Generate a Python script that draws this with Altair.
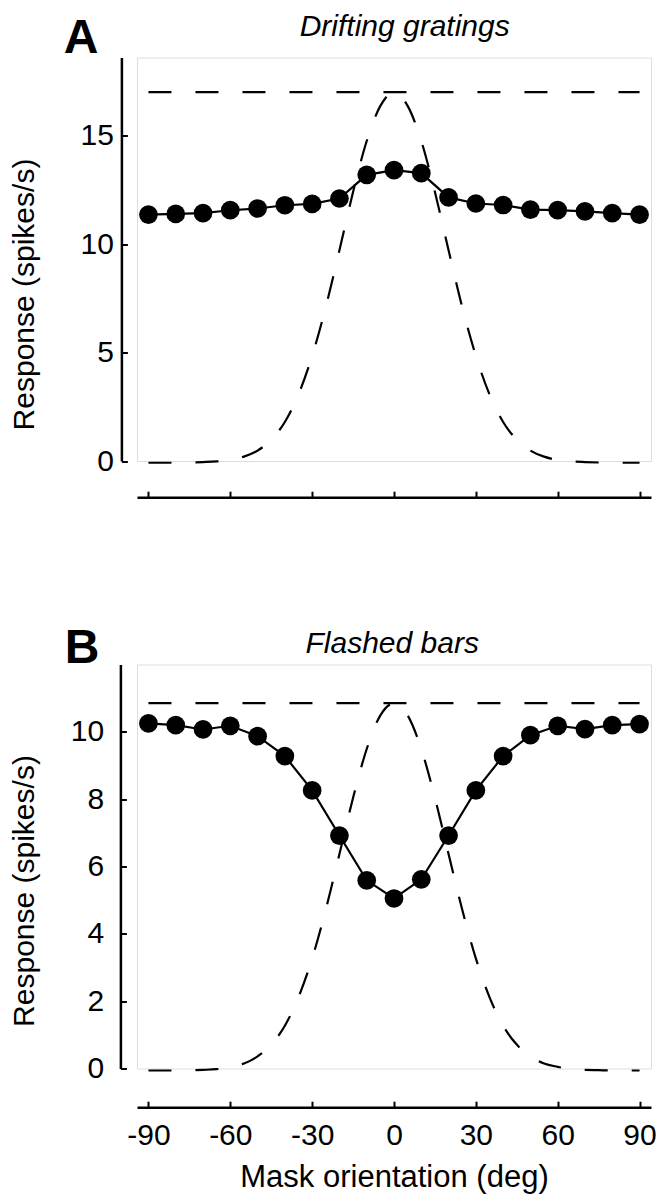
import altair as alt
import pandas as pd

# ---------------- data ----------------
angles = [-90, -80, -70, -60, -50, -40, -30, -20, -10, 0, 10, 20, 30, 40, 50, 60, 70, 80, 90]
resp_gratings = [11.36, 11.39, 11.43, 11.56, 11.64, 11.79, 11.85, 12.10, 13.19, 13.41,
                 13.27, 12.15, 11.87, 11.80, 11.59, 11.56, 11.51, 11.43, 11.36]
resp_bars = [10.25, 10.20, 10.07, 10.18, 9.87, 9.28, 8.26, 6.92, 5.59, 5.05,
             5.62, 6.92, 8.26, 9.28, 9.90, 10.18, 10.08, 10.20, 10.23]

curve_angles = [-90, -85, -80, -75, -70, -65, -60, -55, -50, -45, -40, -35, -30, -25, -20, -15, -10, -5, 0,
                5, 10, 15, 20, 25, 30, 35, 40, 45, 50, 55, 60, 65, 70, 75, 80, 85, 90]
curve_gratings = [-0.08, -0.08, -0.08, -0.07, -0.05, -0.02, 0.05, 0.20, 0.48, 0.98, 1.80, 3.07, 4.85, 7.10,
                  9.72, 12.40, 14.75, 16.37, 17.00, 16.37, 14.75, 12.40, 9.72, 7.10, 4.85, 3.07, 1.80,
                  0.98, 0.48, 0.20, 0.05, -0.02, -0.05, -0.07, -0.08, -0.08, -0.08]
curve_bars = [-0.06, -0.06, -0.06, -0.05, -0.04, -0.02, 0.05, 0.15, 0.36, 0.71, 1.27, 2.12, 3.27, 4.72,
              6.37, 8.04, 9.49, 10.49, 10.85, 10.49, 9.49, 8.04, 6.37, 4.72, 3.27, 2.12, 1.27,
              0.71, 0.36, 0.15, 0.05, -0.02, -0.04, -0.05, -0.06, -0.06, -0.06]

ref_angles = [-90, 90]
ref_gratings = [17.0, 17.0]
ref_bars = [10.85, 10.85]

x_ticks = [-90, -60, -30, 0, 30, 60, 90]
y_ticks_gratings = [0, 5, 10, 15]
y_ticks_bars = [0, 2, 4, 6, 8, 10]

FONT = "Liberation Sans"
X_DOMAIN = [-94.2, 94.2]
W = 514
HYPHEN_LABEL = "(datum.value < 0 ? '-' : '') + abs(datum.value)"


def panel(resp, curve, ref, ymax, yticks, H, xoff, yoff, lab_pad, title_x, title_y,
          letter, letter_x, letter_y, head, head_x, head_y, xlabels):
    xs = alt.Scale(domain=X_DOMAIN, nice=False, zero=False)
    ys = alt.Scale(domain=[0, ymax], nice=False, zero=False)

    # axis lines with inward-pointing ticks
    ax_x_line = alt.Axis(orient="top", offset=-(H + xoff), values=x_ticks, labels=False,
                         ticks=True, tickSize=6, tickWidth=2, tickColor="black",
                         domainColor="black", domainWidth=2.5, grid=False)
    ax_y_line = alt.Axis(orient="right", offset=-(W + yoff), values=yticks, labels=False,
                         ticks=True, tickSize=6, tickWidth=2, tickColor="black",
                         domainColor="black", domainWidth=2.5, grid=False)

    ref_df = pd.DataFrame({"angle": ref_angles, "resp": ref})
    ref_layer = alt.Chart(ref_df).mark_line(
        color="black", strokeWidth=2.2, strokeDash=[23, 24]
    ).encode(
        x=alt.X("angle:Q", scale=xs, axis=ax_x_line, title=None),
        y=alt.Y("resp:Q", scale=ys, axis=ax_y_line, title=None),
    )

    curve_df = pd.DataFrame({"angle": curve_angles, "resp": curve})
    curve_layer = alt.Chart(curve_df).mark_line(
        color="black", strokeWidth=2.2, strokeDash=[23, 24], interpolate="monotone"
    ).encode(
        x=alt.X("angle:Q", scale=xs, axis=None),
        y=alt.Y("resp:Q", scale=ys, axis=None),
    )

    data_df = pd.DataFrame({"angle": angles, "resp": resp})
    line_layer = alt.Chart(data_df).mark_line(color="black", strokeWidth=2.2).encode(
        x=alt.X("angle:Q", scale=xs, axis=None),
        y=alt.Y("resp:Q", scale=ys, axis=None),
    )

    ax_y_lab = alt.Axis(orient="left", offset=yoff, values=yticks, domain=False, ticks=False,
                        tickSize=0, labelPadding=lab_pad, labelFontSize=30, labelFont=FONT,
                        labelColor="black", labelFlush=False, grid=False,
                        title="Response (spikes/s)", titleFont=FONT, titleFontSize=30,
                        titleFontWeight="normal", titleColor="black", titleX=title_x,
                        titleY=title_y, titleAngle=270, titleBaseline="middle",
                        titleAlign="center")
    if xlabels:
        x_enc = alt.X("angle:Q", scale=xs, axis=alt.Axis(
            orient="bottom", offset=xoff, values=x_ticks, domain=False, ticks=False,
            tickSize=0, labelPadding=13, labelFontSize=30, labelFont=FONT,
            labelColor="black", labelFlush=False, grid=False, labelExpr=HYPHEN_LABEL,
            title="Mask orientation (deg)", titleFont=FONT, titleFontSize=31,
            titleFontWeight="normal", titleColor="black", titlePadding=12))
    else:
        x_enc = alt.X("angle:Q", scale=xs, title=None, axis=alt.Axis(
            orient="bottom", offset=xoff, values=x_ticks, domain=False, ticks=False,
            tickSize=0, labels=False, grid=False))

    point_layer = alt.Chart(data_df).mark_point(
        filled=True, shape="circle", size=350, color="black", opacity=1
    ).encode(
        x=x_enc,
        y=alt.Y("resp:Q", scale=ys, axis=ax_y_lab),
    )

    letter_layer = alt.Chart(pd.DataFrame({"t": [letter]})).mark_text(
        font=FONT, fontSize=48, fontWeight="bold", align="left", baseline="alphabetic",
        color="black"
    ).encode(x=alt.value(letter_x), y=alt.value(letter_y), text="t:N")

    head_layer = alt.Chart(pd.DataFrame({"t": [head]})).mark_text(
        font=FONT, fontSize=30, fontStyle="italic", align="center", baseline="alphabetic",
        color="black"
    ).encode(x=alt.value(head_x), y=alt.value(head_y), text="t:N")

    return alt.layer(ref_layer, curve_layer, line_layer, point_layer,
                     letter_layer, head_layer).properties(width=W, height=H)


top = panel(resp_gratings, curve_gratings, ref_gratings, 18.6, y_ticks_gratings,
            H=403.5, xoff=36.2, yoff=15.6, lab_pad=8, title_x=-97.2, title_y=236.5,
            letter="A", letter_x=-73.3, letter_y=-4.3,
            head="Drifting gratings", head_x=267.7, head_y=-21.5, xlabels=False)

bottom = panel(resp_bars, curve_bars, ref_bars, 12.0, y_ticks_bars,
               H=404, xoff=38.7, yoff=16.6, lab_pad=16.7, title_x=-96.2, title_y=226,
               letter="B", letter_x=-72.3, letter_y=-2,
               head="Flashed bars", head_x=255.2, head_y=-12, xlabels=True)

chart = alt.vconcat(top, bottom, spacing=124).properties(
    padding={"left": 0, "top": 3.5, "right": 0, "bottom": 0}
).configure_view(stroke=None).configure(background="white")

chart.save("out.html", embed_options={"renderer": "svg", "actions": False})
